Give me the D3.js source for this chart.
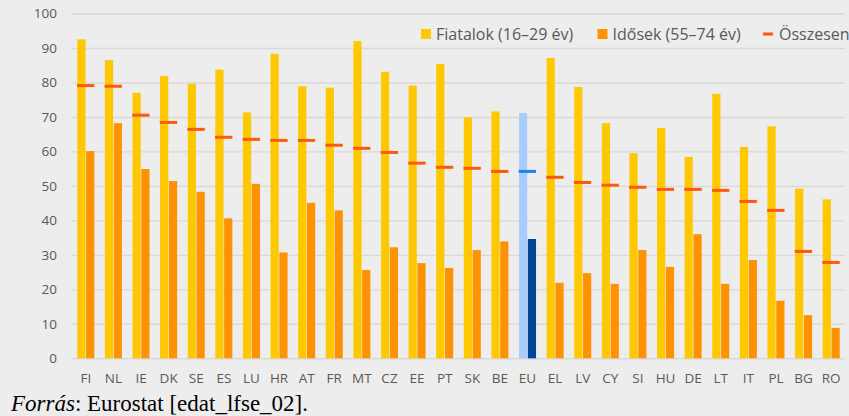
<!DOCTYPE html>
<html>
<head>
<meta charset="utf-8">
<script src="https://d3js.org/d3.v7.min.js"></script>
<style>
  body { margin: 0; background: #ededed; }
  svg { display: block; }
</style>
</head>
<body>
<div id="chartDiv"></div>
<script>

// data
var countries = ["FI","NL","IE","DK","SE","ES","LU","HR","AT","FR","MT","CZ","EE","PT",
                 "SK","BE","EU","EL","LV","CY","SI","HU","DE","LT","IT","PL","BG","RO"];
var youngValues = [92.5,86.5,77.0,81.9,79.6,83.7,71.3,88.3,78.9,78.5,92.0,83.1,79.1,85.4,
                   69.9,71.6,71.1,87.1,78.7,68.2,59.5,66.8,58.4,76.7,61.3,67.3,49.2,46.1];
var oldValues = [60.1,68.2,54.9,51.4,48.3,40.6,50.6,30.7,45.1,42.9,25.6,32.2,27.6,26.2,
                 31.4,33.9,34.6,21.9,24.7,21.6,31.4,26.5,36.0,21.6,28.5,16.7,12.5,8.8];
var totalValues = [79.1,78.9,70.5,68.4,66.4,64.1,63.5,63.2,63.2,61.8,60.9,59.7,56.6,55.4,
                   55.1,54.2,54.2,52.5,51.0,50.2,49.6,49.0,49.0,48.7,45.5,42.9,31.0,27.8];
var yTicks = [0,10,20,30,40,50,60,70,80,90,100];
var seriesNames = ["Fiatalok (16–29 év)", "Idősek (55–74 év)", "Összesen"];

var data = countries.map(function(c, i) {
    return { country: c, young: youngValues[i], old: oldValues[i], total: totalValues[i] };
});

var W = 849, H = 416;
var plotLeft = 72, plotRight = 845, plotTop = 13.5, plotBottom = 358.3;

var svg = d3.select("#chartDiv")
  .append("svg")
    .attr("width", W)
    .attr("height", H);

svg.append("rect")
    .attr("width", W).attr("height", H)
    .attr("fill", "#ededed");

var x = d3.scaleBand()
    .domain(countries)
    .range([plotLeft, plotRight])
    .padding(0);

var x1 = d3.scaleBand()
    .domain(["young", "old"])
    .range([0, x.bandwidth()])
    .paddingInner(0.07)
    .paddingOuter(0.6);

var y = d3.scaleLinear()
    .domain([0, 100])
    .range([plotBottom, plotTop]);

var font = "'Open Sans', 'DejaVu Sans', sans-serif";
var textColor = "#595959";

// grid lines + y labels
var yAxis = svg.append("g")
    .attr("transform", "translate(" + plotLeft + ",0)")
    .call(d3.axisLeft(y).tickValues(yTicks).tickSize(-(plotRight - plotLeft)).tickPadding(15));
yAxis.select(".domain").remove();
yAxis.selectAll(".tick line")
    .attr("stroke", "#d9d9d9")
    .attr("stroke-width", 1.4);
yAxis.selectAll(".tick text")
    .attr("fill", textColor)
    .style("font-family", font)
    .style("font-size", "13.5px");

// x labels
var xAxis = svg.append("g")
    .attr("transform", "translate(0," + plotBottom + ")")
    .call(d3.axisBottom(x).tickSize(0).tickPadding(15));
xAxis.select(".domain").remove();
xAxis.selectAll(".tick text")
    .attr("fill", textColor)
    .style("font-family", font)
    .style("font-size", "13.5px");

// bars
var groups = svg.append("g")
  .selectAll("g")
  .data(data)
  .enter()
  .append("g")
    .attr("transform", function(d) { return "translate(" + x(d.country) + ",0)"; });

groups.append("rect")
    .attr("x", x1("young"))
    .attr("width", x1.bandwidth())
    .attr("y", function(d) { return y(d.young); })
    .attr("height", function(d) { return y(0) - y(d.young); })
    .attr("fill", function(d) { return d.country == "EU" ? "#a8cdfb" : "#ffc800"; });

groups.append("rect")
    .attr("x", x1("old"))
    .attr("width", x1.bandwidth())
    .attr("y", function(d) { return y(d.old); })
    .attr("height", function(d) { return y(0) - y(d.old); })
    .attr("fill", function(d) { return d.country == "EU" ? "#004494" : "#ff9200"; });

// total markers
groups.append("rect")
    .attr("x", x1("young") - 0.3)
    .attr("width", x1("old") + x1.bandwidth() - x1("young") + 0.3)
    .attr("y", function(d) { return y(d.total) - 1.5; })
    .attr("height", 3)
    .attr("fill", function(d) { return d.country == "EU" ? "#1f80f0" : "#ff5a0a"; });

// legend
var legend = svg.append("g");
var legendX = [421, 597.5, 763];
var legendColors = ["#ffc800", "#ff9200", "#ff5a0a"];

seriesNames.forEach(function(name, i) {
    if (i < 2) {
        legend.append("rect")
            .attr("x", legendX[i]).attr("y", 29)
            .attr("width", 10).attr("height", 10)
            .attr("fill", legendColors[i]);
    } else {
        legend.append("rect")
            .attr("x", legendX[i]).attr("y", 32.5)
            .attr("width", 10).attr("height", 3)
            .attr("fill", legendColors[i]);
    }
    legend.append("text")
        .attr("x", legendX[i] + (i < 2 ? 15 : 16))
        .attr("y", 34)
        .attr("dy", "0.35em")
        .attr("fill", textColor)
        .style("font-family", font)
        .style("font-size", "16px")
        .text(name);
});

// source note
var note = svg.append("text")
    .attr("x", 11)
    .attr("y", 411)
    .attr("fill", "#000")
    .style("font-family", "'Liberation Serif', 'Times New Roman', serif")
    .style("font-size", "23px");
note.append("tspan").style("font-style", "italic").text("Forrás");
note.append("tspan").text(": Eurostat [edat_lfse_02].");

</script>
</body>
</html>
